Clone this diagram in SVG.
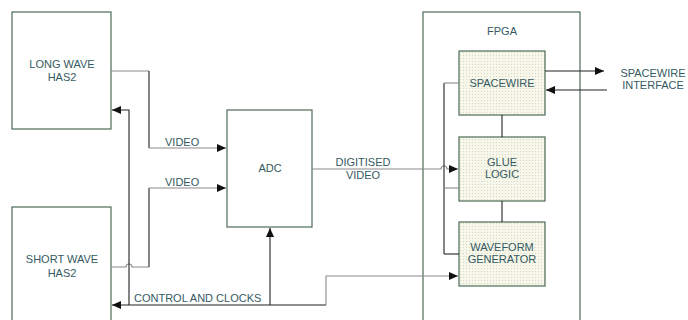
<svg xmlns="http://www.w3.org/2000/svg" width="688" height="320" viewBox="0 0 688 320">
<defs>
<pattern id="dots" width="3" height="3" patternUnits="userSpaceOnUse">
<rect width="3" height="3" fill="#f6f6ea"/>
<rect x="1" y="1" width="1" height="1" fill="#d6d8c0"/>
</pattern>
<marker id="ah" markerWidth="10" markerHeight="8" refX="9" refY="4" orient="auto" markerUnits="userSpaceOnUse">
<path d="M0,0 L9,4 L0,8 Z" fill="#111"/>
</marker>
</defs>
<style>
.box{fill:#fff;stroke:#4d6b55;stroke-width:1.2}
.inner{fill:url(#dots);stroke:#4d6b55;stroke-width:1.2}
.t{font-family:"Liberation Sans",Arial,sans-serif;font-size:11px;fill:#355a62;text-anchor:middle}
.tl{font-family:"Liberation Sans",Arial,sans-serif;font-size:11px;fill:#355a62}
.k{fill:none;stroke:#222;stroke-width:1.1}
.g{fill:none;stroke:#8a8a8a;stroke-width:1.1}
</style>
<g id="fpga">
<rect class="box" x="423" y="12" width="157" height="320"/>
<text class="t" x="502" y="35">FPGA</text>
</g>
<g id="longwave">
<rect class="box" x="12" y="12" width="99" height="117"/>
<text class="t" x="62" y="68">LONG WAVE</text>
<text class="t" x="62" y="81">HAS2</text>
</g>
<g id="shortwave">
<rect class="box" x="12" y="207" width="99" height="125"/>
<text class="t" x="62" y="263">SHORT WAVE</text>
<text class="t" x="62" y="277">HAS2</text>
</g>
<g id="adc">
<rect class="box" x="227" y="110" width="85" height="117"/>
<text class="t" x="270" y="172">ADC</text>
</g>
<g id="spacewire">
<rect class="inner" x="459" y="51" width="86" height="64"/>
<text class="t" x="502" y="87">SPACEWIRE</text>
</g>
<g id="glue">
<rect class="inner" x="459" y="137" width="86" height="64"/>
<text class="t" x="502" y="166">GLUE</text>
<text class="t" x="502" y="178">LOGIC</text>
</g>
<g id="waveform">
<rect class="inner" x="459" y="222" width="86" height="64"/>
<text class="t" x="502" y="251">WAVEFORM</text>
<text class="t" x="502" y="263">GENERATOR</text>
</g>
<g id="connectors">
<path class="g" d="M111,71 H149"/>
<path class="k" d="M149,71 V148"/>
<path class="g" d="M149,148 H226" marker-end="url(#ah)"/>
<text class="tl" x="165" y="146">VIDEO</text>
<path class="g" d="M111,267 H126 a3,3 0 0 1 6,0 H149"/>
<path class="k" d="M149,267 V188"/>
<path class="g" d="M149,188 H226" marker-end="url(#ah)"/>
<text class="tl" x="165" y="186">VIDEO</text>
<path class="k" d="M129,305 V110 H112" marker-end="url(#ah)"/>
<path class="k" d="M326,305 H112" marker-end="url(#ah)"/>
<text class="tl" x="134" y="302">CONTROL AND CLOCKS</text>
<path class="k" d="M270,305 V228" marker-end="url(#ah)"/>
<path class="g" d="M326,305 V276 H458" marker-end="url(#ah)"/>
<path class="g" d="M312,169 H441 a3,3 0 0 1 6,0 H458" marker-end="url(#ah)"/>
<text class="t" x="363" y="166">DIGITISED</text>
<text class="t" x="363" y="179">VIDEO</text>
<path class="k" d="M444,254 V83"/>
<path class="g" d="M444,83 H459"/>
<path class="g" d="M444,188 H459"/>
<path class="k" d="M444,254 H459"/>
<path class="k" d="M502,115 V137"/>
<path class="k" d="M502,201 V222"/>
<path class="k" d="M545,71 H604" marker-end="url(#ah)"/>
<path class="k" d="M607,90 H546" marker-end="url(#ah)"/>
<text class="t" x="653" y="77">SPACEWIRE</text>
<text class="t" x="653" y="89">INTERFACE</text>
</g>
</svg>
